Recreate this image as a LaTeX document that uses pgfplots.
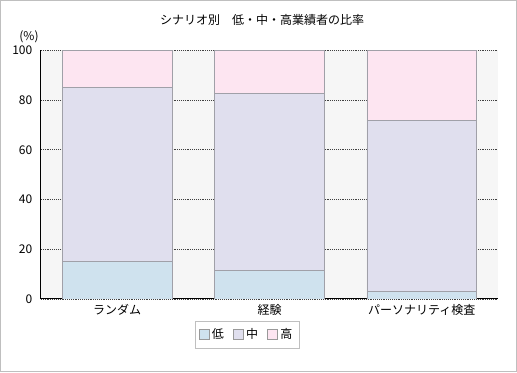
\documentclass[border=0pt]{standalone}
\usepackage{fontspec}
\setmainfont{Noto Sans CJK JP}
\usepackage{pgfplots}
\pgfplotsset{compat=1.18}
\definecolor{lowc}{HTML}{CFE2EE}
\definecolor{midc}{HTML}{E0DFEE}
\definecolor{highc}{HTML}{FDE5F1}
\definecolor{bgc}{HTML}{F6F6F6}
\definecolor{edge}{HTML}{A0A0A8}
\begin{document}
\begin{tikzpicture}
\useasboundingbox (-30.75pt,-55.5pt) rectangle (357pt,224.25pt);
\draw[color=black!25, line width=0.75pt] (-30.0pt,-54.75pt) rectangle (356.25pt,223.5pt);
\begin{axis}[name=ax, at={(0pt,0pt)}, anchor=south west, scale only axis,
  width=342.75pt, height=186.4pt,
  ybar stacked, bar width=0.72,
  xmin=-0.5, xmax=2.5, ymin=0, ymax=100,
  xtick={0,1,2}, xticklabels={ランダム,経験,パーソナリティ検査},
  ytick={0,20,40,60,80,100},
  axis lines*=left,
  axis line style={black, line width=0.75pt},
  axis background/.style={fill=bgc},
  ymajorgrids, grid style={densely dotted, black!75, line width=0.6pt},
  major tick length=0pt,
  tick label style={font=\fontsize{9}{10}\selectfont},
  yticklabel style={xshift=-3pt},
  xticklabel style={yshift=-0.8pt},
  /pgf/number format/assume math mode=true,
  legend style={at={(0.4508,-0.1429)}, anchor=center, draw=black!25, fill=white,
    font=\fontsize{9}{10}\selectfont, inner xsep=3pt, inner ysep=3.5pt,
    legend columns=3, /tikz/every even column/.append style={column sep=5pt}},
  legend cell align=left,
  legend image code/.code={\draw[#1, draw=black!40, line width=0.5pt] (0pt,-3.6pt) rectangle (7.2pt,3.6pt);},
]
\addplot[fill=lowc, draw=edge, line width=0.6pt] coordinates {(0,15.0) (1,11.5) (2,3.0)};
\addplot[fill=midc, draw=edge, line width=0.6pt] coordinates {(0,70.0) (1,71.2) (2,68.8)};
\addplot[fill=highc, draw=edge, line width=0.6pt] coordinates {(0,15.0) (1,17.3) (2,28.2)};
\legend{低,中,高}
\end{axis}
\node[font=\fontsize{9}{10}\selectfont] at (165.75pt,209.25pt) {シナリオ別　低・中・高業績者の比率};
\node[font=\fontsize{9}{10}\selectfont] at (-9pt,196.5pt) {(\%)};
\end{tikzpicture}
\end{document}
